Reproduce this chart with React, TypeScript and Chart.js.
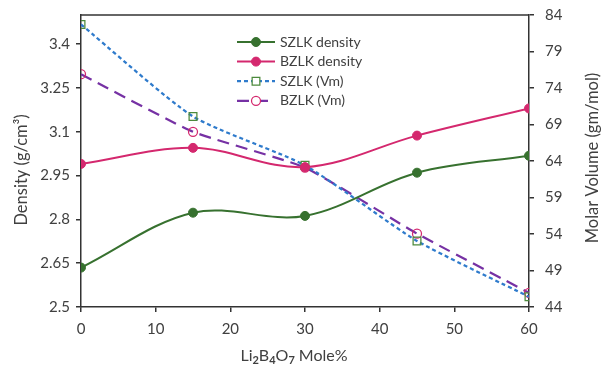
import React, { useEffect, useRef } from 'react';
import { Chart, registerables } from 'chart.js';

Chart.register(...registerables);

// Composition (mole % of Li2B4O7)
const moleFraction = [0, 15, 30, 45, 60];

// Density (g/cm³), left axis
const szlkDensity = [2.635, 2.823, 2.812, 2.96, 3.018];
const bzlkDensity = [2.99, 3.045, 2.979, 3.087, 3.18];

// Molar volume (gm/mol), right axis
const szlkVm = [82.7, 70.1, 63.4, 53.05, 45.4];
const bzlkVm = [75.9, 68.0, 63.1, 54.05, 45.95];

// Axis ticks
const moleTicks = [0, 10, 20, 30, 40, 50, 60];
const densityTicks = [2.5, 2.65, 2.8, 2.95, 3.1, 3.25, 3.4];
const volumeTicks = [44, 49, 54, 59, 64, 69, 74, 79, 84];

// Axis titles
const densityTitle = 'Density (g/cm³)';
const volumeTitle = 'Molar Volume (gm/mol)';
// x title pieces: [text, isSubscript]
const moleTitle: [string, boolean][] = [
  ['Li', false], ['2', true], ['B', false], ['4', true], ['O', false], ['7', true], [' Mole%', false],
];

const FONT = 'Lato, "Open Sans", sans-serif';
const TEXT = '#404040';
const AXIS = '#333333';

const GREEN = '#37712f';
const PINK = '#d4286e';
const BLUE = '#2f7bcc';
const PURPLE = '#7631a4';
const SQUARE = '#4c8a3c';

const pts = (ys: number[]) => moleFraction.map((x, i) => ({ x, y: ys[i] }));

// Frame line along the top edge of the plot area
const frame = {
  id: 'frame',
  beforeDatasetsDraw(chart: any) {
    const { ctx, chartArea: a } = chart;
    ctx.save();
    ctx.strokeStyle = AXIS;
    ctx.lineWidth = 1.5;
    ctx.beginPath();
    ctx.moveTo(a.left, a.top);
    ctx.lineTo(a.right, a.top);
    ctx.stroke();
    ctx.restore();
  },
};

// Axis titles: both vertical titles read bottom-to-top, x title has subscripts
const axisTitles = {
  id: 'axisTitles',
  afterDraw(chart: any) {
    const { ctx, chartArea: a, width } = chart;
    const mid = (a.top + a.bottom) / 2;
    ctx.save();
    ctx.fillStyle = TEXT;
    ctx.textBaseline = 'middle';
    ctx.textAlign = 'center';
    ctx.font = `16.5px ${FONT}`;

    ctx.save();
    ctx.translate(22, mid + 9);
    ctx.rotate(-Math.PI / 2);
    ctx.fillText(densityTitle, 0, 0);
    ctx.restore();

    ctx.save();
    ctx.translate(width - 15, mid - 3);
    ctx.rotate(-Math.PI / 2);
    ctx.fillText(volumeTitle, 0, 0);
    ctx.restore();

    const mainFont = `16px ${FONT}`;
    const subFont = `bold 11px ${FONT}`;
    ctx.textAlign = 'left';
    ctx.textBaseline = 'alphabetic';
    let total = 0;
    moleTitle.forEach(([t, sub]) => {
      ctx.font = sub ? subFont : mainFont;
      total += ctx.measureText(t).width;
    });
    let x = (a.left + a.right) / 2 - 11 - total / 2;
    const base = 361;
    moleTitle.forEach(([t, sub]) => {
      ctx.font = sub ? subFont : mainFont;
      ctx.fillText(t, x, sub ? base + 3 : base);
      x += ctx.measureText(t).width;
    });
    ctx.restore();
  },
};

// Legend drawn inside the plot: a short line with the marker centred on it
const innerLegend = {
  id: 'innerLegend',
  afterDraw(chart: any) {
    const { ctx, chartArea: a } = chart;
    const x0 = a.left + 156;
    const lineLen = 38;
    const y0 = a.top + 27;
    const rowH = 19.6;
    ctx.save();
    chart.data.datasets.forEach((ds: any, i: number) => {
      const y = y0 + i * rowH;
      ctx.strokeStyle = ds.borderColor;
      ctx.lineWidth = ds.borderWidth;
      ctx.setLineDash(ds.borderDash || []);
      ctx.beginPath();
      ctx.moveTo(x0, y);
      ctx.lineTo(x0 + lineLen, y);
      ctx.stroke();
      ctx.setLineDash([]);
      const cx = x0 + lineLen / 2;
      const r = ds.pointRadius;
      ctx.lineWidth = ds.pointBorderWidth;
      ctx.strokeStyle = ds.pointBorderColor;
      ctx.fillStyle = ds.pointStyle === 'circle' && ds.pointBackgroundColor !== 'rgba(255,255,255,0)' ? ds.pointBackgroundColor : '#ffffff';
      ctx.beginPath();
      if (ds.pointStyle === 'rect') {
        ctx.rect(cx - r * 0.7, y - r * 0.7, r * 1.4, r * 1.4);
      } else {
        ctx.arc(cx, y, r, 0, Math.PI * 2);
      }
      ctx.fill();
      ctx.stroke();
      ctx.fillStyle = TEXT;
      ctx.font = `14px ${FONT}`;
      ctx.textAlign = 'left';
      ctx.textBaseline = 'middle';
      ctx.fillText(ds.label, x0 + lineLen + 5, y);
    });
    ctx.restore();
  },
};

const tickFont = { family: FONT, size: 15 };
const axisGrid = { drawOnChartArea: false, drawTicks: true, tickLength: 5, color: AXIS, lineWidth: 1.5 };
const axisBorder = { display: true, color: AXIS, width: 1.5 };

const fitTo = (key: 'width' | 'height', size: number) => (s: any) => {
  s[key] = size;
  s.paddingTop = 0;
  s.paddingBottom = 0;
  s.paddingLeft = 0;
  s.paddingRight = 0;
};

export default function App() {
  const ref = useRef<HTMLCanvasElement>(null);

  useEffect(() => {
    if (!ref.current) return;
    const chart = new Chart(ref.current, {
      type: 'line',
      data: {
        datasets: [
          {
            label: 'SZLK density',
            data: pts(szlkDensity),
            yAxisID: 'yDensity',
            borderColor: GREEN,
            borderWidth: 2,
            tension: 0.35,
            pointStyle: 'circle',
            pointRadius: 4.5,
            pointBorderWidth: 1,
            pointBorderColor: GREEN,
            pointBackgroundColor: GREEN,
          },
          {
            label: 'BZLK density',
            data: pts(bzlkDensity),
            yAxisID: 'yDensity',
            borderColor: PINK,
            borderWidth: 2,
            tension: 0.35,
            pointStyle: 'circle',
            pointRadius: 4.5,
            pointBorderWidth: 1,
            pointBorderColor: PINK,
            pointBackgroundColor: PINK,
          },
          {
            label: 'SZLK (Vm)',
            data: pts(szlkVm),
            yAxisID: 'yVolume',
            borderColor: BLUE,
            borderWidth: 2.25,
            borderDash: [4, 3],
            tension: 0.2,
            pointStyle: 'rect',
            pointRadius: 5.5,
            pointBorderWidth: 1.25,
            pointBorderColor: SQUARE,
            pointBackgroundColor: 'rgba(255,255,255,0)',
          },
          {
            label: 'BZLK (Vm)',
            data: pts(bzlkVm),
            yAxisID: 'yVolume',
            borderColor: PURPLE,
            borderWidth: 2.25,
            borderDash: [12, 7],
            tension: 0.15,
            pointStyle: 'circle',
            pointRadius: 4.5,
            pointBorderWidth: 1.25,
            pointBorderColor: PINK,
            pointBackgroundColor: 'rgba(255,255,255,0)',
          },
        ],
      },
      options: {
        animation: false,
        responsive: true,
        maintainAspectRatio: false,
        layout: { padding: { top: 15 } },
        plugins: {
          legend: { display: false },
          tooltip: { enabled: false },
        },
        scales: {
          x: {
            type: 'linear',
            min: 0,
            max: 60,
            afterBuildTicks: (s: any) => {
              s.ticks = moleTicks.map((v) => ({ value: v }));
            },
            afterFit: fitTo('height', 58),
            grid: axisGrid,
            border: axisBorder,
            ticks: { font: tickFont, color: TEXT, padding: 8, maxRotation: 0 },
          },
          yDensity: {
            type: 'linear',
            position: 'left',
            min: 2.5,
            max: 3.5,
            afterBuildTicks: (s: any) => {
              s.ticks = densityTicks.map((v) => ({ value: v }));
            },
            afterFit: fitTo('width', 81),
            grid: axisGrid,
            border: axisBorder,
            ticks: {
              font: tickFont,
              color: TEXT,
              padding: 6,
              callback: (v: any) => String(Number(Number(v).toFixed(2))),
            },
          },
          yVolume: {
            type: 'linear',
            position: 'right',
            min: 44,
            max: 84,
            afterBuildTicks: (s: any) => {
              s.ticks = volumeTicks.map((v) => ({ value: v }));
            },
            afterFit: fitTo('width', 79),
            grid: axisGrid,
            border: axisBorder,
            ticks: { font: tickFont, color: TEXT, padding: 11 },
          },
        },
      },
      plugins: [frame, axisTitles, innerLegend],
    });
    return () => chart.destroy();
  }, []);

  return (
    <div style={{ position: 'fixed', left: 0, top: 0, width: 608, height: 365, background: '#fff' }}>
      <canvas ref={ref} />
    </div>
  );
}
